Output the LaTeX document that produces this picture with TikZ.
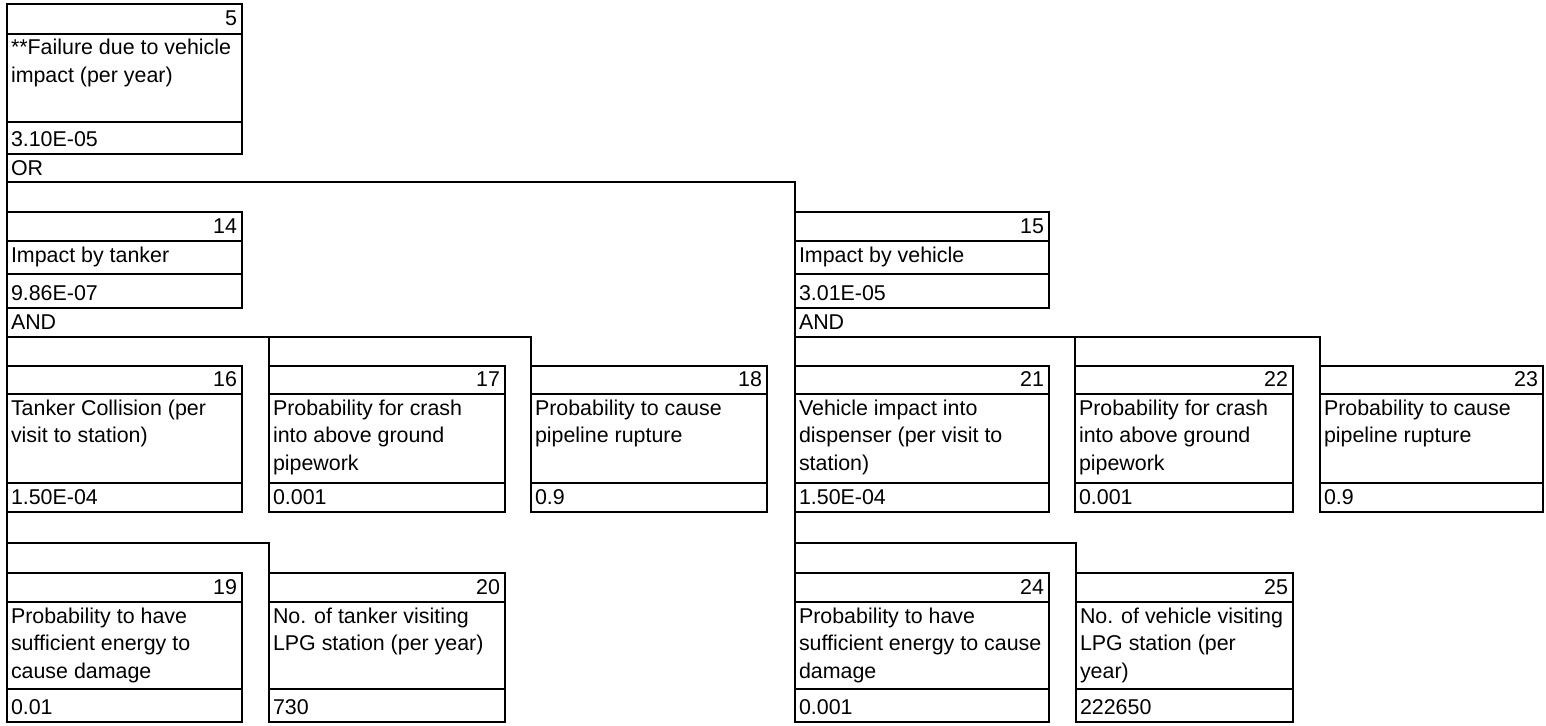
\documentclass[tikz,border=0pt]{standalone}
\usepackage{fontspec}
\setmainfont{Liberation Sans}
\usetikzlibrary{calc}

% Row geometry of the event boxes: top, number-cell bottom,
% description-cell bottom, value-cell bottom (1 unit = 1pt, y downwards)
\def\rowAtop{4}   \def\rowAnum{34}  \def\rowAdesc{122} \def\rowAval{154}
\def\rowBtop{212} \def\rowBnum{241} \def\rowBdesc{274} \def\rowBval{308}
\def\rowCtop{366} \def\rowCnum{394} \def\rowCdesc{483} \def\rowCval{512}
\def\rowDtop{573} \def\rowDnum{602} \def\rowDdesc{689} \def\rowDval{722}

\tikzset{
  cell/.style={draw, line width=2.2pt, inner sep=0pt, outer sep=0pt, anchor=north west},
  lbl/.style={font=\fontsize{21.4}{27.5}\selectfont, inner sep=0pt, outer sep=0pt},
  wire/.style={line width=2.2pt},
}

% \ftbox{name}{x left}{x right}{row}{number}{description lines}{value}
\newcommand{\ftbox}[7]{%
  \edef\yt{\csname row#4top\endcsname}%
  \edef\yn{\csname row#4num\endcsname}%
  \edef\yd{\csname row#4desc\endcsname}%
  \edef\yv{\csname row#4val\endcsname}%
  \node[cell, minimum width={(#3-#2)*1pt}, minimum height={(\yn-\yt)*1pt}] (#1-n) at (#2,\yt) {};
  \node[cell, minimum width={(#3-#2)*1pt}, minimum height={(\yd-\yn)*1pt}] (#1-d) at (#2,\yn) {};
  \node[cell, minimum width={(#3-#2)*1pt}, minimum height={(\yv-\yd)*1pt}] (#1-v) at (#2,\yd) {};
  \node[lbl, anchor=base east] (#1-nt) at ($(#1-n.south east)+(-5,-8)$) {#5};
  \foreach \l [count=\i] in {#6}
    \node[lbl, anchor=base west] (#1-t\i) at ($(#1-d.north west)+(4,{21+27.5*(\i-1)})$) {\l};
  \node[lbl, anchor=base west] (#1-vt) at ($(#1-v.south west)+(4,-8)$) {#7};
}

\begin{document}
\begin{tikzpicture}[x=1pt, y=-1pt]
\useasboundingbox (0,0) rectangle (1546,725);

% top event
\ftbox{b5}{7}{242}{A}{5}{{**Failure due to vehicle},{impact (per year)}}{3.10E-05}

% second level
\ftbox{b14}{7}{242}{B}{14}{{Impact by tanker}}{9.86E-07}
\ftbox{b15}{795}{1049}{B}{15}{{Impact by vehicle}}{3.01E-05}

% third level, tanker branch
\ftbox{b16}{7}{242}{C}{16}{{Tanker Collision (per},{visit to station)}}{1.50E-04}
\ftbox{b17}{269}{505}{C}{17}{{Probability for crash},{into above ground},{pipework}}{0.001}
\ftbox{b18}{531}{767}{C}{18}{{Probability to cause},{pipeline rupture}}{0.9}

% third level, vehicle branch
\ftbox{b21}{795}{1049}{C}{21}{{Vehicle impact into},{dispenser (per visit to},{station)}}{1.50E-04}
\ftbox{b22}{1075}{1293}{C}{22}{{Probability for crash},{into above ground},{pipework}}{0.001}
\ftbox{b23}{1320}{1543}{C}{23}{{Probability to cause},{pipeline rupture}}{0.9}

% fourth level
\ftbox{b19}{7}{242}{D}{19}{{Probability to have},{sufficient energy to},{cause damage}}{0.01}
\ftbox{b20}{269}{505}{D}{20}{{No. of tanker visiting},{LPG station (per year)}}{730}
\ftbox{b24}{795}{1049}{D}{24}{{Probability to have},{sufficient energy to cause},{damage}}{0.001}
\ftbox{b25}{1076}{1293}{D}{25}{{No. of vehicle visiting},{LPG station (per},{year)}}{222650}

% gate levels
\coordinate (g5)  at (7,182);
\coordinate (g14) at (7,337);
\coordinate (g15) at (795,337);
\coordinate (g16) at (7,543);
\coordinate (g21) at (795,543);

\node[lbl, anchor=base west] (g5-t)  at ($(g5)+(4,-7)$)  {OR};
\node[lbl, anchor=base west] (g14-t) at ($(g14)+(4,-8)$) {AND};
\node[lbl, anchor=base west] (g15-t) at ($(g15)+(4,-8)$) {AND};

% connectors
\draw[wire] (b5-v.south west) -- (b14-n.north west);
\draw[wire] (g5) -| (b15-n.north west);

\draw[wire] (b14-v.south west) -- (b16-n.north west);
\draw[wire] (g14) -| (b17-n.north west);
\draw[wire] (g14) -| (b18-n.north west);

\draw[wire] (b15-v.south west) -- (b21-n.north west);
\draw[wire] (g15) -| (b22-n.north west);
\draw[wire] (g15) -| (b23-n.north west);

\draw[wire] (b16-v.south west) -- (b19-n.north west);
\draw[wire] (g16) -| (b20-n.north west);

\draw[wire] (b21-v.south west) -- (b24-n.north west);
\draw[wire] (g21) -| (b25-n.north west);
\end{tikzpicture}
\end{document}
